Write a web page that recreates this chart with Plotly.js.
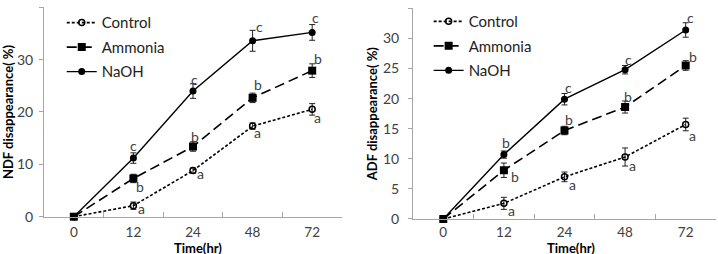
<!DOCTYPE html>
<html>
<head>
<meta charset="utf-8">
<script src="https://cdn.plot.ly/plotly-3.0.1.min.js"></script>
<style>
  html, body { margin: 0; padding: 0; background: #fff; }
  #chart { width: 718px; height: 254px; }
</style>
</head>
<body>
<div id="chart"></div>
<script>
// Incubation times (hr), shown as evenly spaced categories
const timeLabels = ['0', '12', '24', '48', '72'];

// NDF disappearance (%)
const ndfControl     = [0, 2.1, 8.8, 17.3, 20.5];
const ndfControlErr  = [0, 0.7, 0.5, 0.6, 1.1];
const ndfAmmonia     = [0, 7.3, 13.4, 22.7, 27.9];
const ndfAmmoniaErr  = [0, 0.8, 0.9, 0.9, 1.3];
const ndfNaOH        = [0, 11.2, 24.0, 33.6, 35.2];
const ndfNaOHErr     = [0, 1.0, 1.4, 2.0, 1.5];

// ADF disappearance (%)
const adfControl     = [0, 2.6, 7.0, 10.3, 15.7];
const adfControlErr  = [0, 1.0, 0.8, 1.5, 1.05];
const adfAmmonia     = [0, 8.1, 14.7, 18.6, 25.5];
const adfAmmoniaErr  = [0, 1.2, 0.7, 1.0, 0.8];
const adfNaOH        = [0, 10.7, 19.9, 24.8, 31.4];
const adfNaOHErr     = [0, 0.6, 0.95, 0.7, 1.2];

// Significance letters for each point
const ndfControlSig  = ['', 'a', 'a', 'a', 'a'];
const ndfAmmoniaSig  = ['', 'b', 'b', 'b', 'b'];
const ndfNaOHSig     = ['', 'c', 'c', 'c', 'c'];
const adfControlSig  = ['', 'a', 'a', 'a', 'a'];
const adfAmmoniaSig  = ['', 'b', 'b', 'b', 'b'];
const adfNaOHSig     = ['', 'b', 'c', 'c', 'c'];

// Axis titles
const xTitle = 'Time(hr)';
const ndfTitle = 'NDF disappearance( %)';
const adfTitle = 'ADF disappearance( %)';

// Pixel offsets of the letters from their points [dx, dy up]
const letterShift = {
  ndfControl: [[0,0],[8,-3],[8,-3],[5,-6],[5,-8]],
  ndfAmmonia: [[0,0],[7,-8],[2,10],[5,13],[6,12]],
  ndfNaOH:    [[0,0],[0,13],[2,12],[7,14],[3,15]],
  adfControl: [[0,0],[8,-7],[8,-8],[7,-9],[7,-11]],
  adfAmmonia: [[0,0],[11,-6],[5,11],[3,11],[7,9]],
  adfNaOH:    [[0,0],[2,12],[4,12],[3,10],[5,12]]
};

const FONT = 'Lato, "Open Sans", sans-serif';
const INK = '#000000';
const AXIS_GREY = '#a6a6a6';
const LABEL_GREY = '#404040';

const styles = {
  Control: { dash: '3px,2px', symbol: 'circle-open', size: 6, lw: 1.6 },
  Ammonia: { dash: '10px,5px', symbol: 'square', size: 8, lw: 1.6 },
  NaOH:    { dash: 'solid', symbol: 'circle', size: 7, lw: 1.4 }
};

function series(name, y, err, xa, ya, legendId) {
  const s = styles[name];
  return {
    type: 'scatter', mode: 'lines+markers', name: name,
    x: timeLabels, y: y, xaxis: xa, yaxis: ya,
    legend: legendId, legendgroup: legendId + name,
    cliponaxis: false,
    line: { color: INK, width: s.lw, dash: s.dash },
    marker: { symbol: s.symbol, size: s.size, color: INK,
              line: { color: INK, width: s.symbol === 'circle-open' ? 1.5 : 0 } },
    error_y: { type: 'data', array: err, visible: true, color: '#222', thickness: 1, width: 3 }
  };
}

const data = [
  series('Control', ndfControl, ndfControlErr, 'x', 'y', 'legend'),
  series('Ammonia', ndfAmmonia, ndfAmmoniaErr, 'x', 'y', 'legend'),
  series('NaOH',    ndfNaOH,    ndfNaOHErr,    'x', 'y', 'legend'),
  series('Control', adfControl, adfControlErr, 'x2', 'y2', 'legend2'),
  series('Ammonia', adfAmmonia, adfAmmoniaErr, 'x2', 'y2', 'legend2'),
  series('NaOH',    adfNaOH,    adfNaOHErr,    'x2', 'y2', 'legend2')
];

// Letters are placed by category index on the category axes
const annotations = [];
function addLetters(values, letters, shifts, xref, yref) {
  letters.forEach(function (t, i) {
    if (!t) return;
    annotations.push({
      x: i, y: values[i], xref: xref, yref: yref,
      text: t, showarrow: false,
      xshift: shifts[i][0], yshift: shifts[i][1],
      font: { family: FONT, size: 14, color: LABEL_GREY }
    });
  });
}
addLetters(ndfControl, ndfControlSig, letterShift.ndfControl, 'x', 'y');
addLetters(ndfAmmonia, ndfAmmoniaSig, letterShift.ndfAmmonia, 'x', 'y');
addLetters(ndfNaOH,    ndfNaOHSig,    letterShift.ndfNaOH,    'x', 'y');
addLetters(adfControl, adfControlSig, letterShift.adfControl, 'x2', 'y2');
addLetters(adfAmmonia, adfAmmoniaSig, letterShift.adfAmmonia, 'x2', 'y2');
addLetters(adfNaOH,    adfNaOHSig,    letterShift.adfNaOH,    'x2', 'y2');

// Time titles sit low under each panel, below the tick labels
[['x domain', 'y domain'], ['x2 domain', 'y2 domain']].forEach(function (refs, k) {
  annotations.push({
    x: 0.5, y: 0, xref: refs[0], yref: refs[1],
    xanchor: 'center', yanchor: 'middle',
    xshift: k === 0 ? 5 : 7, yshift: k === 0 ? -31 : -29,
    text: '<b>' + xTitle + '</b>', showarrow: false,
    font: { family: FONT, size: 13, color: INK }
  });
});

function xAxis(domain, anchor, gap) {
  return {
    domain: domain, anchor: anchor, type: 'category',
    categoryorder: 'array', categoryarray: timeLabels,
    range: [-0.5, 4.5],
    showline: true, linecolor: AXIS_GREY, linewidth: 1,
    showgrid: false, zeroline: false,
    ticks: 'inside', tickson: 'boundaries', ticklen: 5, tickcolor: AXIS_GREY,
    ticklabelstandoff: gap,
    tickfont: { family: FONT, size: 13.5, color: LABEL_GREY },
    automargin: false, fixedrange: true
  };
}
function yAxis(domain, anchor, max, step, title, gap) {
  return {
    domain: domain, anchor: anchor, range: [0, max], dtick: step,
    showline: true, linecolor: AXIS_GREY, linewidth: 1,
    showgrid: false, zeroline: false,
    ticks: 'outside', ticklen: 4, tickcolor: AXIS_GREY,
    ticklabelstandoff: gap,
    tickfont: { family: FONT, size: 14, color: LABEL_GREY },
    title: { text: '<b>' + title + '</b>', font: { family: FONT, size: 13, color: INK } },
    automargin: false, fixedrange: true
  };
}

const legendBase = {
  bgcolor: 'rgba(0,0,0,0)', borderwidth: 0,
  font: { family: FONT, size: 15, color: '#222' },
  tracegroupgap: 2, itemclick: false, xanchor: 'left', yanchor: 'top'
};

const layout = {
  width: 718, height: 254,
  margin: { l: 0, r: 0, t: 0, b: 0 },
  paper_bgcolor: '#fff', plot_bgcolor: '#fff',
  showlegend: true,
  xaxis:  xAxis([0.0613, 0.4763], 'y', 3),
  yaxis:  yAxis([0.1469, 0.9713], 'x', 40, 10, ndfTitle, 3),
  xaxis2: xAxis([0.5752, 0.9972], 'y2', 1),
  yaxis2: yAxis([0.1378, 0.9673], 'x2', 35, 5, adfTitle, 6),
  legend:  Object.assign({}, legendBase, { x: 0.086, y: 0.975 }),
  legend2: Object.assign({}, legendBase, { x: 0.597, y: 0.98 }),
  annotations: annotations
};

Plotly.newPlot('chart', data, layout, { displayModeBar: false, staticPlot: true });
</script>
</body>
</html>
